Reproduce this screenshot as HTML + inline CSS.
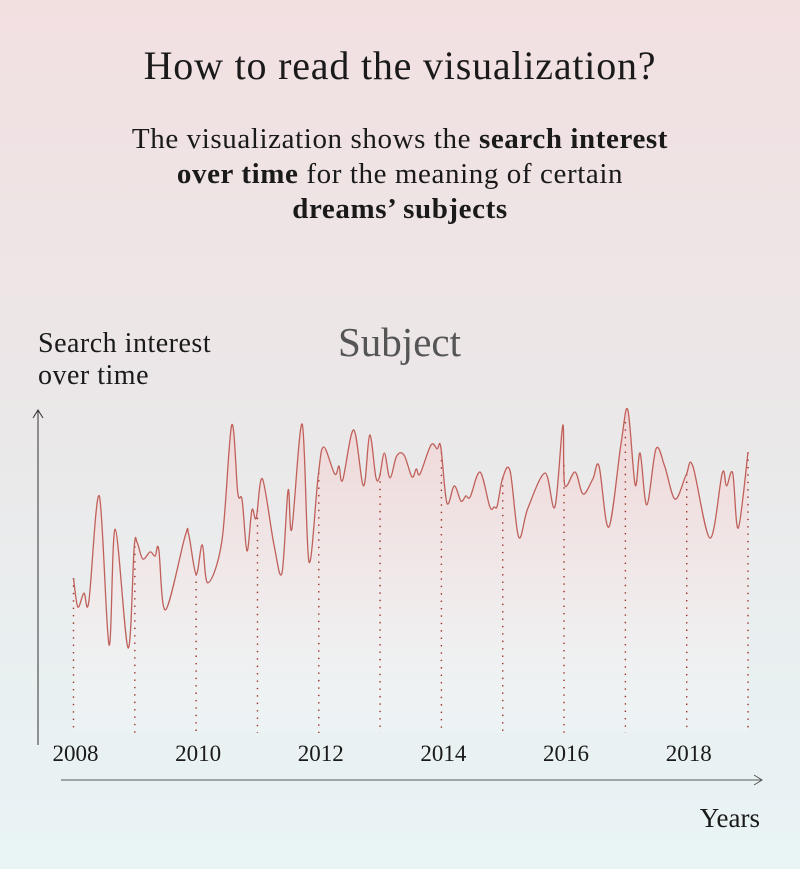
<!DOCTYPE html>
<html><head><meta charset="utf-8"><style>
html,body{margin:0;padding:0}
body{width:800px;height:869px;overflow:hidden;background:linear-gradient(#f2e0e1 0%,#ebe7e8 45%,#e9eff0 75%,#e9f4f5 100%);font-family:"Liberation Serif",serif;color:#1a1a1a;position:relative}
.t{position:absolute;margin:0}
</style></head><body>
<h1 class="t" style="left:0;width:800px;top:42px;text-align:center;font-weight:normal;font-size:40px;letter-spacing:0.8px;">How to read the visualization?</h1>
<p class="t" style="left:0;width:800px;top:122px;text-align:center;font-size:29px;line-height:35px;letter-spacing:0.6px;">The visualization shows the <b>search interest<br>over time</b> for the meaning of certain<br><b>dreams’ subjects</b></p>
<div class="t" style="left:38px;top:328px;font-size:28px;line-height:32px;letter-spacing:0.5px;">Search interest<br>over time</div>
<div class="t" style="left:338px;top:318px;font-size:41px;color:#555;">Subject</div>
<svg id="chart" width="800" height="869" style="position:absolute;left:0;top:0">
<defs><linearGradient id="fg" x1="0" y1="0" x2="0" y2="1"><stop offset="0" stop-color="#f2c8c8" stop-opacity="0.55"/><stop offset="0.55" stop-color="#f8e6e6" stop-opacity="0.5"/><stop offset="1" stop-color="#ffffff" stop-opacity="0.15"/></linearGradient></defs>
</svg>
<script>
const years=[2008,2008.07,2008.17,2008.25,2008.42,2008.58,2008.68,2008.89,2008.99,2009.04,2009.13,2009.25,2009.33,2009.39,2009.5,2009.82,2009.88,2010,2010.1,2010.19,2010.42,2010.58,2010.68,2010.75,2010.83,2010.91,2010.98,2011.08,2011.27,2011.4,2011.5,2011.56,2011.73,2011.84,2011.99,2012.08,2012.26,2012.33,2012.39,2012.57,2012.73,2012.83,2012.93,2012.99,2013.07,2013.16,2013.27,2013.39,2013.52,2013.59,2013.65,2013.83,2013.93,2013.99,2014.09,2014.21,2014.32,2014.4,2014.47,2014.63,2014.79,2014.86,2014.91,2015,2015.12,2015.26,2015.41,2015.69,2015.85,2015.98,2016.01,2016.18,2016.31,2016.47,2016.57,2016.73,2016.93,2017.04,2017.16,2017.24,2017.35,2017.5,2017.64,2017.81,2017.99,2018.1,2018.38,2018.58,2018.65,2018.75,2018.84,2019];
const values=[47.2,38.2,42.5,39.8,72.7,26.4,62.4,25.5,56.8,58.1,53.1,55.3,54,56.2,37.3,60.2,60.6,48.4,57.5,45.7,58.7,94.7,73.6,71.4,55.6,68.3,65.8,78,57.5,48.8,74.5,62.4,95,52.2,78.9,87.9,79.5,82,77.6,93.2,75.8,91.6,78.6,78.6,86,78.3,85.1,85.4,78.6,81.1,79.5,88.5,87.3,87.9,70.5,75.8,71.1,72.7,72.4,80.1,69.3,69.3,69.6,78.3,80.4,59.9,68.9,79.8,69.3,94.7,76.1,80.1,73.3,78,82,63,89.1,99.4,76.1,86,69.9,87.3,82,71.7,79.2,82,59.6,79.8,75.8,79.8,62.7,86.3];
const tickYears=[2008,2009,2010,2011,2012,2013,2014,2015,2016,2017,2018,2019];
const labelYears=[2008,2010,2012,2014,2016,2018];
const NS="http://www.w3.org/2000/svg";
const svg=document.getElementById('chart');
const x=y=>73.5+(y-2008)*61.32;
const yv=v=>730-v*3.22;
const base=733;
const pts=years.map((t,i)=>[x(t),yv(values[i])]);
function spline(p){let d="M"+p[0][0]+","+p[0][1];for(let i=0;i<p.length-1;i++){const p0=p[i-1]||p[i],p1=p[i],p2=p[i+1],p3=p[i+2]||p2;const c1=[p1[0]+(p2[0]-p0[0])/6,p1[1]+(p2[1]-p0[1])/6],c2=[p2[0]-(p3[0]-p1[0])/6,p2[1]-(p3[1]-p1[1])/6];d+="C"+c1[0].toFixed(1)+","+c1[1].toFixed(1)+" "+c2[0].toFixed(1)+","+c2[1].toFixed(1)+" "+p2[0].toFixed(1)+","+p2[1].toFixed(1);}return d;}
function mk(tag,a){const e=document.createElementNS(NS,tag);for(const k in a)e.setAttribute(k,a[k]);svg.appendChild(e);return e;}
const lineD=spline(pts);
const area=mk('path',{d:lineD+"L"+pts[pts.length-1][0]+","+base+"L"+pts[0][0]+","+base+"Z",fill:"url(#fg)"});


function interp(t){for(let i=0;i<years.length-1;i++){if(t>=years[i]&&t<=years[i+1]){const f=(t-years[i])/(years[i+1]-years[i]||1);return values[i]+f*(values[i+1]-values[i]);}}return values[values.length-1];}
tickYears.forEach(t=>{const l=mk('line',{x1:x(t),x2:x(t),y1:yv(interp(t)),y2:base,stroke:"#9a2e28","stroke-width":1.4,"stroke-dasharray":"1.4 6"});

});
const line=mk('path',{d:lineD,fill:"none",stroke:"#c0605a","stroke-width":1.3});


labelYears.forEach(t=>{const tx=mk('text',{x:x(t)+2,y:761,"text-anchor":"middle","font-size":23,"font-family":"Liberation Serif, serif",fill:"#1a1a1a"});tx.textContent=t;

});
const ya=mk('path',{d:"M38,745V410M33,418L38,410L43,418",stroke:"#333","stroke-width":1,fill:"none"});


const xa=mk('path',{d:"M61,780H762M754,775L762,780L754,785",stroke:"#555","stroke-width":1,fill:"none"});


const xt=mk('text',{x:760,y:827,"text-anchor":"end","font-size":27,"font-family":"Liberation Serif, serif",fill:"#1a1a1a"});xt.textContent="Years";


</script>
</body></html>
